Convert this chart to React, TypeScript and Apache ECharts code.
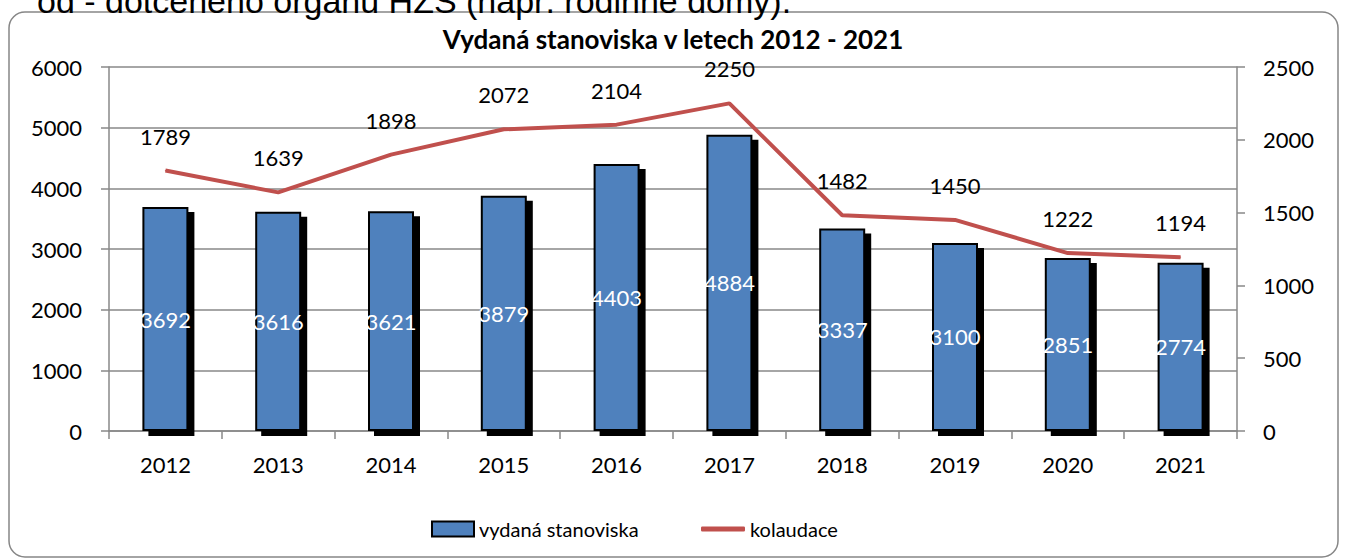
import React, { useEffect, useRef } from "react";
import * as echarts from "echarts";

const years = ["2012", "2013", "2014", "2015", "2016", "2017", "2018", "2019", "2020", "2021"];
const stanoviska = [3692, 3616, 3621, 3879, 4403, 4884, 3337, 3100, 2851, 2774];
const kolaudace = [1789, 1639, 1898, 2072, 2104, 2250, 1482, 1450, 1222, 1194];

const FONT = "Lato";

export default function App() {
  const ref = useRef<HTMLDivElement>(null);
  useEffect(() => {
    if (!ref.current) return;
    const chart = echarts.init(ref.current, null, { renderer: "svg" });
    const plain = (v: number) => String(v);
    chart.setOption({
      animation: false,
      backgroundColor: "#ffffff",
      textStyle: { fontFamily: FONT },
      title: {
        text: "Vydaná stanoviska v letech 2012 - 2021",
        left: "center",
        top: 21,
        textStyle: { fontFamily: FONT, fontWeight: "bold", fontSize: 26, color: "#000" },
      },
      graphic: [
        {
          type: "rect",
          shape: { x: 9, y: 12, width: 1329, height: 545, r: 16 },
          style: { fill: "none", stroke: "#868686", lineWidth: 1.5 },
          z: 0,
        },
        {
          type: "text",
          x: 37,
          y: -16,
          style: {
            text: "od - dotčeného orgánu HZS (např. rodinné domy).",
            font: "34px 'Liberation Sans', Arial",
            fill: "#000",
          },
        },
      ],
      legend: [
        {
          left: 426,
          bottom: 14,
          itemWidth: 42,
          itemHeight: 15,
          textStyle: { fontFamily: FONT, fontSize: 20, color: "#000" },
          data: [{ name: "vydaná stanoviska", icon: "rect" }],
        },
        {
          left: 696,
          bottom: 14,
          itemWidth: 44,
          itemHeight: 5,
          textStyle: { fontFamily: FONT, fontSize: 20, color: "#000" },
          data: [{ name: "kolaudace", icon: "roundRect" }],
        },
      ],
      grid: { left: 109, right: 109, top: 67, bottom: 127, containLabel: false },
      xAxis: {
        type: "category",
        data: years,
        axisLine: { lineStyle: { color: "#888", width: 1.5 } },
        axisTick: { show: true, length: 8, lineStyle: { color: "#888", width: 1.5 } },
        axisLabel: { color: "#000", fontSize: 22, fontFamily: FONT, margin: 22 },
      },
      yAxis: [
        {
          type: "value",
          min: 0,
          max: 6000,
          interval: 1000,
          axisLine: { show: true, lineStyle: { color: "#888", width: 1.5 } },
          axisTick: { show: true, length: 8, lineStyle: { color: "#888", width: 1.5 } },
          axisLabel: { color: "#000", fontSize: 22, fontFamily: FONT, margin: 27, formatter: plain },
          splitLine: { show: true, lineStyle: { color: "#888", width: 1.5 } },
        },
        {
          type: "value",
          min: 0,
          max: 2500,
          interval: 500,
          position: "right",
          axisLine: { show: true, lineStyle: { color: "#888", width: 1.5 } },
          axisTick: { show: true, length: 8, lineStyle: { color: "#888", width: 1.5 } },
          axisLabel: { color: "#000", fontSize: 22, fontFamily: FONT, margin: 26, formatter: plain },
          splitLine: { show: false },
        },
      ],
      series: [
        {
          name: "vydaná stanoviska",
          type: "bar",
          data: stanoviska,
          barWidth: 46,
          yAxisIndex: 0,
          itemStyle: {
            color: "#4F81BD",
            borderColor: "#000",
            borderWidth: 2,
            shadowColor: "#000",
            shadowOffsetX: 6,
            shadowOffsetY: 5,
            shadowBlur: 0,
          },
          label: {
            show: true,
            position: "inside",
            color: "#fff",
            fontSize: 22,
            fontFamily: FONT,
          },
          z: 2,
        },
        {
          name: "kolaudace",
          type: "line",
          data: kolaudace,
          yAxisIndex: 1,
          symbol: "circle",
          symbolSize: 1,
          showSymbol: true,
          lineStyle: { color: "#C0504D", width: 4 },
          itemStyle: { color: "#C0504D" },
          label: {
            show: true,
            position: "top",
            distance: 23,
            color: "#000",
            fontSize: 22,
            fontFamily: FONT,
          },
          z: 3,
        },
      ],
    });
    return () => chart.dispose();
  }, []);
  return (
    <div
      ref={ref}
      style={{ position: "absolute", left: 0, top: 0, width: 1346, height: 558 }}
    />
  );
}
